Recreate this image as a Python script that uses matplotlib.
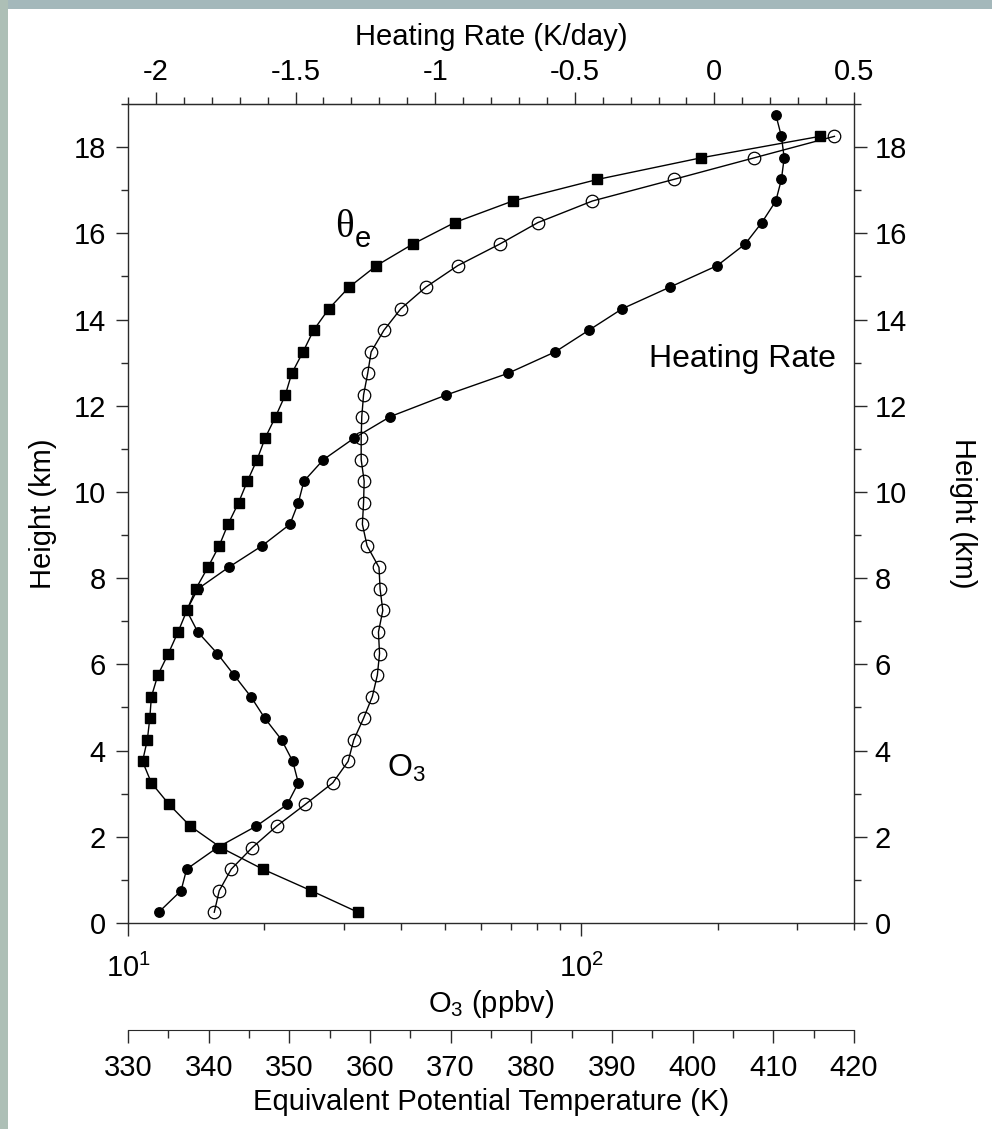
import matplotlib
matplotlib.use("Agg")
import matplotlib.pyplot as plt
from matplotlib.ticker import MultipleLocator, LogLocator, NullFormatter, FuncFormatter
from matplotlib.patches import Rectangle

plt.rcParams['font.family'] = ['Liberation Sans', 'DejaVu Sans']
plt.rcParams['mathtext.fontset'] = 'custom'
plt.rcParams['mathtext.rm'] = 'Liberation Sans'
plt.rcParams['mathtext.it'] = 'Liberation Sans:italic'
plt.rcParams['mathtext.bf'] = 'Liberation Sans:bold'
plt.rcParams['axes.unicode_minus'] = False

# Profile levels (km)
height_km = [0.25, 0.75, 1.25, 1.75, 2.25, 2.75, 3.25, 3.75, 4.25, 4.75,
             5.25, 5.75, 6.25, 6.75, 7.25, 7.75, 8.25, 8.75, 9.25, 9.75,
             10.25, 10.75, 11.25, 11.75, 12.25, 12.75, 13.25, 13.75, 14.25, 14.75,
             15.25, 15.75, 16.25, 16.75, 17.25, 17.75, 18.25]
heating_height_km = [0.25, 0.75, 1.25, 1.75, 2.25, 2.75, 3.25, 3.75, 4.25, 4.75,
                     5.25, 5.75, 6.25, 6.75, 7.25, 7.75, 8.25, 8.75, 9.25, 9.75,
                     10.25, 10.75, 11.25, 11.75, 12.25, 12.75, 13.25, 13.75, 14.25, 14.75,
                     15.25, 15.75, 16.25, 16.75, 17.25, 17.75, 18.25, 18.75]

# Equivalent potential temperature (K)
theta_e = [358.5, 352.7, 346.7, 341.5, 337.7, 335.1, 332.9, 331.8, 332.4, 332.7,
           332.9, 333.7, 335.0, 336.2, 337.3, 338.4, 339.9, 341.3, 342.4, 343.7,
           344.8, 346.0, 347.0, 348.3, 349.5, 350.3, 351.7, 353.0, 354.9, 357.4,
           360.8, 365.3, 370.5, 377.7, 388.2, 401.0, 415.8]

# Ozone mixing ratio (ppbv)
ozone = [15.5, 15.9, 16.9, 18.8, 21.3, 24.6, 28.3, 30.6, 31.5, 33.1,
         34.6, 35.5, 35.9, 35.7, 36.5, 36.0, 35.8, 33.7, 32.9, 33.1,
         33.2, 32.7, 32.7, 32.8, 33.1, 33.8, 34.4, 36.7, 40.0, 45.4,
         53.4, 66.1, 80.3, 105.9, 160.0, 240.6, 362.2]

# Radiative heating rate (K/day)
heating = [-1.99, -1.91, -1.89, -1.78, -1.64, -1.53, -1.49, -1.51, -1.55, -1.61,
           -1.66, -1.72, -1.78, -1.85, -1.89, -1.85, -1.74, -1.62, -1.52, -1.49,
           -1.47, -1.40, -1.29, -1.16, -0.96, -0.74, -0.57, -0.45, -0.33, -0.16,
           0.01, 0.11, 0.17, 0.22, 0.24, 0.25, 0.24, 0.22]

height_ticks = [0, 2, 4, 6, 8, 10, 12, 14, 16, 18]
heating_ticks = [-2, -1.5, -1, -0.5, 0, 0.5]
theta_ticks = [330, 340, 350, 360, 370, 380, 390, 400, 410, 420]

W, H = 992, 1129
fig = plt.figure(figsize=(W / 100, H / 100), dpi=100)
fig.patch.set_facecolor('white')

# scanned-paper border along the top and left edges
fig.patches.append(Rectangle((0, 1 - 9 / H), 1, 9 / H, transform=fig.transFigure,
                             facecolor='#a4b8bb', edgecolor='none', zorder=0))
fig.patches.append(Rectangle((0, 0), 8 / W, 1, transform=fig.transFigure,
                             facecolor='#adbfb6', edgecolor='none', zorder=0))

L, R, T, B = 128, 854, 104, 923
ax = fig.add_axes([L / W, (H - B) / H, (R - L) / W, (B - T) / H])
ax.patch.set_alpha(0)

TICK_FS = 21
LABEL_FS = 21
spine_col = '#2a2a2a'
line_kw = dict(color='black', lw=1.0)

for s in ax.spines.values():
    s.set_color(spine_col)
    s.set_linewidth(1.0)

# --- ozone on the main (log) x axis ---
ax.set_xscale('log')
ax.set_xlim(10, 400)
ax.set_ylim(0, 19)
ax.plot(ozone, height_km, marker='o', ms=9.0, mfc='none', mec='black', mew=0.9,
        zorder=3, **line_kw)
ax.xaxis.set_major_locator(LogLocator(base=10, numticks=5))
ax.xaxis.set_minor_locator(LogLocator(base=10, subs=range(2, 10), numticks=20))
ax.xaxis.set_minor_formatter(NullFormatter())
ax.set_xlabel('O$_3$ (ppbv)', fontsize=LABEL_FS, labelpad=4)
ax.yaxis.set_major_locator(MultipleLocator(2))
ax.yaxis.set_minor_locator(MultipleLocator(1))
ax.set_yticks(height_ticks)
ax.set_ylabel('Height (km)', fontsize=LABEL_FS, labelpad=12)
ax.tick_params(axis='both', which='major', direction='out', length=9, width=1.0,
               labelsize=TICK_FS, color=spine_col, pad=7)
ax.tick_params(axis='both', which='minor', direction='out', length=5, width=1.0,
               color=spine_col)
ax.tick_params(axis='x', which='major', pad=13)

# --- right-hand height axis ---
axr = ax.twinx()
axr.set_ylim(0, 19)
axr.set_yticks(height_ticks)
axr.yaxis.set_minor_locator(MultipleLocator(1))
axr.tick_params(axis='y', which='major', direction='out', length=9, width=1.0,
                labelsize=TICK_FS, color=spine_col, pad=6)
axr.tick_params(axis='y', which='minor', direction='out', length=5, width=1.0,
                color=spine_col)
axr.set_ylabel('Height (km)', fontsize=LABEL_FS, rotation=270, labelpad=50)
for s in axr.spines.values():
    s.set_visible(False)

# --- heating rate on the top axis ---
axh = ax.twiny()
axh.set_xlim(-2.1, 0.5)
axh.plot(heating, heating_height_km, marker='o', ms=6.8, mfc='black', mec='black',
         zorder=4, **line_kw)
axh.set_xticks(heating_ticks)
axh.xaxis.set_minor_locator(MultipleLocator(0.1))
axh.xaxis.set_major_formatter(FuncFormatter(lambda v, p: f'{v:g}'))
axh.tick_params(axis='x', which='major', direction='out', length=9, width=1.0,
                labelsize=TICK_FS, color=spine_col, pad=4)
axh.tick_params(axis='x', which='minor', direction='out', length=5, width=1.0,
                color=spine_col)
axh.set_xlabel('Heating Rate (K/day)', fontsize=LABEL_FS, labelpad=9)
for s in axh.spines.values():
    s.set_visible(False)
axh.spines['top'].set_visible(True)
axh.spines['top'].set_color(spine_col)

# --- equivalent potential temperature on a detached bottom axis ---
axt = ax.twiny()
axt.set_xlim(330, 420)
axt.plot(theta_e, height_km, marker='s', ms=7.2, mfc='black', mec='black',
         zorder=5, **line_kw)
axt.xaxis.set_ticks_position('bottom')
axt.xaxis.set_label_position('bottom')
for s in axt.spines.values():
    s.set_visible(False)
axt.spines['bottom'].set_visible(True)
axt.spines['bottom'].set_position(('outward', 77))
axt.spines['bottom'].set_color(spine_col)
axt.set_xticks(theta_ticks)
axt.xaxis.set_minor_locator(MultipleLocator(5))
axt.tick_params(axis='x', which='major', direction='out', length=9, width=1.0,
                labelsize=TICK_FS, color=spine_col, pad=8)
axt.tick_params(axis='x', which='minor', direction='out', length=6, width=1.0,
                color=spine_col)
axt.set_xlabel('Equivalent Potential Temperature (K)', fontsize=LABEL_FS, labelpad=5)

# --- curve labels ---
def frac(px, py):
    return (px - L) / (R - L), (B - py) / (B - T)

ax.text(*frac(335, 237), '\u03b8', transform=ax.transAxes, fontsize=28,
        family='Liberation Serif', ha='left', va='baseline')
ax.text(*frac(355, 247), 'e', transform=ax.transAxes, fontsize=21,
        ha='left', va='baseline')
ax.text(*frac(742, 367), 'Heating Rate', transform=ax.transAxes, fontsize=23,
        ha='center', va='baseline')
ax.text(*frac(387, 777), 'O$_3$', transform=ax.transAxes, fontsize=23,
        ha='left', va='baseline')

fig.savefig('out.png', dpi=100, facecolor='white')
